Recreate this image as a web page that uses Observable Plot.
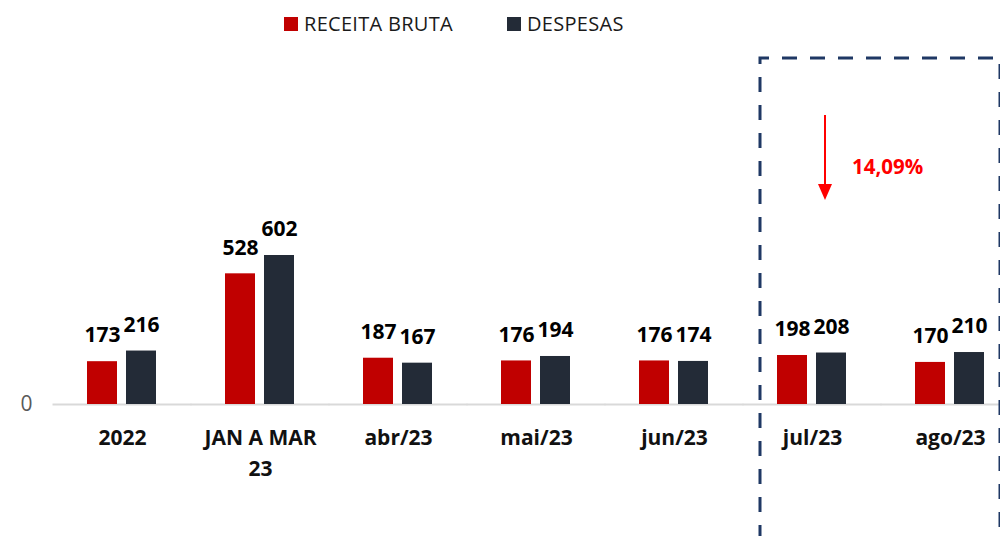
<!DOCTYPE html>
<html><head><meta charset="utf-8">
<script src="https://cdn.jsdelivr.net/npm/d3@7"></script>
<script src="https://cdn.jsdelivr.net/npm/@observablehq/plot@0.6"></script>
<style>
body{margin:0;background:#fff;font-family:"Open Sans",sans-serif;overflow:hidden;}
#legend{height:48px;position:relative;}
.item{position:absolute;top:10px;display:flex;align-items:center;font-size:20px;color:#1a1a1a;line-height:28px;letter-spacing:0.3px;}
.sw{width:14px;height:14px;margin-right:6px;}
#chart svg{overflow:visible;display:block;}
</style></head><body>
<div id="legend"></div><div id="chart"></div>
<script>
const categories = ["2022","JAN A MAR 23","abr/23","mai/23","jun/23","jul/23","ago/23"];
const categoryLabels = ["2022","JAN A MAR\n23","abr/23","mai/23","jun/23","jul/23","ago/23"];
const series = ["RECEITA BRUTA","DESPESAS"];
const receita = [173,528,187,176,176,198,170];
const despesas = [216,602,167,194,174,208,210];
const colors = ["#c00000","#232b37"];
const annotationText = "14,09%";
const highlighted = ["jul/23","ago/23"];

const rows = categories.flatMap((c,i)=>[
  {cat:c, s:series[0], v:receita[i]},
  {cat:c, s:series[1], v:despesas[i]}
]);

// legend
const lg = document.getElementById("legend");
const legendX = [284, 507];
series.forEach((s,i)=>{
  const d = document.createElement("div");
  d.className="item"; d.style.left=legendX[i]+"px";
  d.innerHTML = `<span class="sw" style="background:${colors[i]}"></span><span>${s}</span>`;
  lg.appendChild(d);
});

const H = 488, base = 356, k = 0.2475;
const plot = Plot.plot({
  width:1000, height:H,
  marginLeft:53, marginRight:-19, marginTop:0, marginBottom:H-base,
  style:{fontFamily:"Open Sans", overflow:"visible"},
  fx:{domain:categories, paddingInner:0.49, paddingOuter:0.245, axis:null},
  x:{domain:series, paddingInner:0.22, paddingOuter:0, axis:null},
  y:{domain:[0, base/k], axis:null},
  color:{domain:series, range:colors},
  marks:[
    Plot.ruleY([0],{stroke:"#d9d9d9", strokeWidth:2, insetLeft:-34.5, insetRight:-34.5}),
    Plot.barY(rows,{fx:"cat", x:"s", y:"v", fill:"s"}),
    Plot.text(rows,{fx:"cat", x:"s", y:"v", text:d=>String(d.v), dy:-26, fontSize:21, fontWeight:"bold", fill:"#000", lineAnchor:"middle"}),
    Plot.text(categories,{fx:d=>d, text:(d,i)=>categoryLabels[i], frameAnchor:"bottom", lineAnchor:"top", dy:19, fontSize:21, fontWeight:"bold", fill:"#111", lineHeight:1.45}),
    Plot.axisY({ticks:[0], tickSize:0, tickPadding:55, fontSize:21, color:"#595959", anchor:"left", label:null})
  ]
});
document.getElementById("chart").appendChild(plot);

// highlight box + annotation
const fxScale = plot.scale("fx");
const svg = d3.select(plot.tagName.toLowerCase()==="svg" ? plot : plot.querySelector("svg"));
const boxLeft = fxScale.apply(highlighted[0]) - 17;
const boxRight = fxScale.apply(highlighted[1]) + fxScale.bandwidth + 15;
const boxTop = 10;
svg.append("path")
  .attr("d", `M${boxLeft},${H+60}V${boxTop}H${boxRight}V${H+60}`)
  .attr("fill","none").attr("stroke","#1f3864").attr("stroke-width",3).attr("stroke-dasharray","15 13");
const ax = boxLeft + 65;
svg.append("line").attr("x1",ax).attr("x2",ax).attr("y1",67).attr("y2",138)
  .attr("stroke","#ff0000").attr("stroke-width",2);
svg.append("path").attr("d",`M${ax-7},${136}L${ax+7},${136}L${ax},${152}Z`).attr("fill","#ff0000");
svg.append("text").attr("x",ax+27).attr("y",119).attr("dy","0.35em")
  .attr("text-anchor","start")
  .attr("font-size",20.5).attr("font-weight","bold").attr("fill","#ff0000")
  .attr("font-family","Open Sans").text(annotationText);
</script>
</body></html>
